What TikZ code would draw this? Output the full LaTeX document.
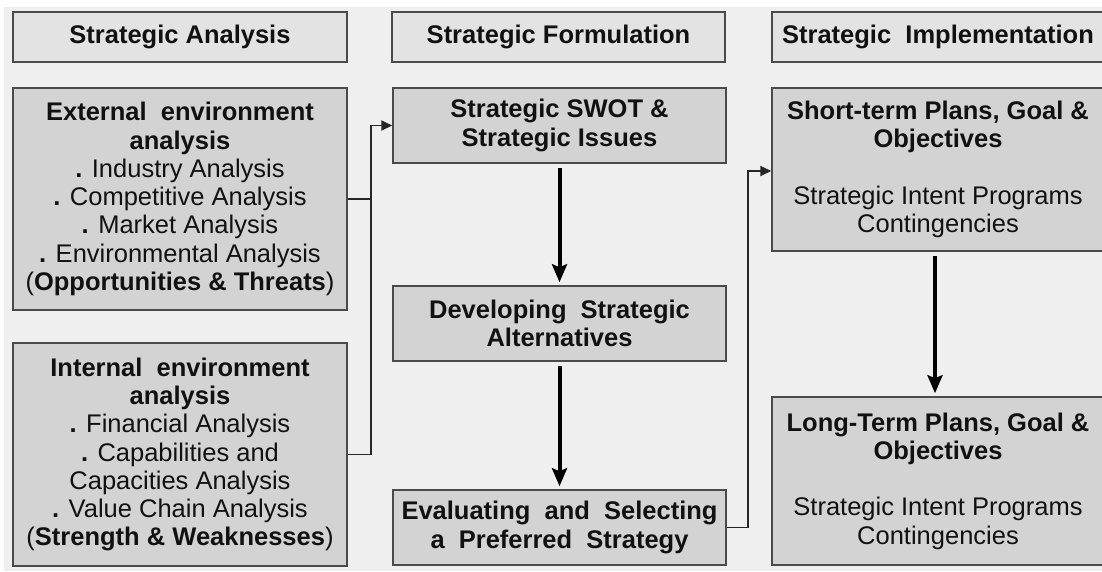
\documentclass[tikz,border=0pt]{standalone}
\usepackage{fontspec}
\setmainfont{Liberation Sans}
\usetikzlibrary{arrows.meta}
\definecolor{bgc}{HTML}{EFEFEF}
\definecolor{hdc}{HTML}{E3E3E3}
\definecolor{bxc}{HTML}{D3D3D3}
\definecolor{edc}{HTML}{4A4A4A}
\definecolor{txc}{HTML}{111111}
\tikzset{
  basebox/.style={draw=edc, line width=1.5pt, inner sep=0pt, align=center, text=txc,
    font=\fontsize{25.5}{28.3}\selectfont},
  headbox/.style={basebox, fill=hdc, minimum height=50pt},
  contbox/.style={basebox, fill=bxc},
  bigarrow/.style={draw=black, line width=4pt, -{Stealth[length=18pt,width=15pt,inset=3pt]},
    shorten <=4pt, shorten >=3pt},
  thinarrow/.style={draw=black!85, line width=1.8pt, -{Triangle[length=11pt,width=10pt]}},
  thinline/.style={draw=black!85, line width=1.8pt}
}
\newcommand{\bt}[1]{{\bfseries #1}}
\begin{document}
\begin{tikzpicture}[x=1pt,y=-1pt]
\clip (0,0) rectangle (1102,571);
\fill[white] (0,0) rectangle (1102,571);
\fill[bgc] (4,7) rectangle (1102,571);

% headers
\node[headbox, minimum width=334pt] (hA) at (180,37) {\bt{Strategic Analysis}};
\node[headbox, minimum width=333pt] (hF) at (558.5,37) {\bt{Strategic Formulation}};
\node[headbox, minimum width=332pt] (hI) at (938,37) {\bt{Strategic\ \ Implementation}};

% left column
\node[contbox, minimum width=334pt, minimum height=222pt] (ext) at (180,199)
  {\bt{External\ \ environment}\\ \bt{analysis}\\ \bt{.} Industry Analysis\\ \bt{.} Competitive Analysis\\
   \bt{.} Market Analysis\\ \bt{.} Environmental Analysis\\ (\bt{Opportunities \& Threats})};
\node[contbox, minimum width=334pt, minimum height=223pt] (int) at (180,454.5)
  {\bt{Internal\ \ environment}\\ \bt{analysis}\\ \bt{.} Financial Analysis\\ \bt{.} Capabilities and\\
   Capacities Analysis\\ \bt{.} Value Chain Analysis\\ (\bt{Strength \& Weaknesses})};

% middle column
\node[contbox, minimum width=333pt, minimum height=75pt] (swot) at (559.5,125.5)
  {\bt{Strategic SWOT \&}\\ \bt{Strategic Issues}};
\node[contbox, minimum width=333pt, minimum height=75pt] (dev) at (559.5,323.5)
  {\bt{Developing\ \ Strategic}\\ \bt{Alternatives}};
\node[contbox, minimum width=333pt, minimum height=75pt] (eval) at (559.5,527.5)
  {\bt{Evaluating\ \ and\ \ Selecting}\\ \bt{a\ \ Preferred\ \ Strategy}};

% right column
\node[contbox, minimum width=332pt, minimum height=163pt] (short) at (938,169.5)
  {\bt{Short-term Plans, Goal \&}\\ \bt{Objectives}\\[28.3pt] Strategic Intent Programs\\ Contingencies};
\node[contbox, minimum width=332pt, minimum height=168pt] (long) at (938,481)
  {\bt{Long-Term Plans, Goal \&}\\ \bt{Objectives}\\[28.3pt] Strategic Intent Programs\\ Contingencies};

% junction coordinates
\coordinate (jl) at (371,125.5);
\coordinate (jr) at (748,171);

% thin connectors
\draw[thinline] (ext.east) -- (jl |- ext.east);
\draw[thinarrow] (int.east) -- (jl |- int.east) -- (jl) -- (swot.west);
\draw[thinarrow] (eval.east) -- (jr |- eval.east) -- (jr) -- (jr -| short.west);

% thick arrows
\draw[bigarrow] (swot.south) -- (dev.north);
\draw[bigarrow] (dev.south) -- (eval.north);
\draw[bigarrow] (short.south -| 935,0) -- (long.north -| 935,0);
\end{tikzpicture}
\end{document}
